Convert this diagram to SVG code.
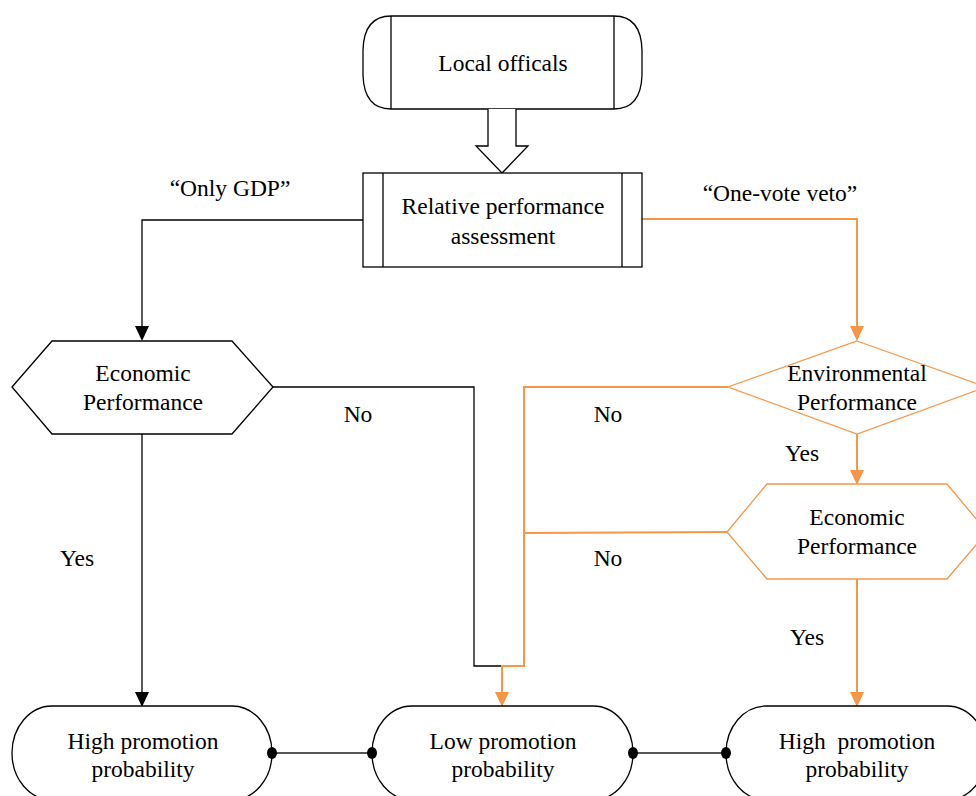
<svg xmlns="http://www.w3.org/2000/svg" width="976" height="796" viewBox="0 0 976 796" font-family="'Liberation Serif', 'DejaVu Serif', serif">
<defs>
<style>
text{font-family:'Liberation Serif','DejaVu Serif',serif;font-size:23.5px;fill:#000;text-anchor:middle}
.k{fill:#fff;stroke:#000;stroke-width:1.3}
.o{fill:#fff;stroke:#F79646;stroke-width:1.3}
.lk{fill:none;stroke:#000;stroke-width:1.3}
.lo{fill:none;stroke:#F79646;stroke-width:2}
.lg{fill:none;stroke:#555;stroke-width:2}
</style>
</defs>

<g id="connectors">
<path class="lk" d="M363,220 H142 V326"/>
<path class="lo" d="M642,219 H857 V326"/>
<path class="lk" d="M273,387 H474 V666 H502"/>
<path class="lo" d="M728,387 H524 V666 H502 V692"/>
<path class="lo" d="M727,532 L524,533"/>
<path class="lk" d="M142,434 V692"/>
<path class="lo" d="M857,434 V470"/>
<path class="lo" d="M857,579 V692"/>
<path d="M135,326 H149 L142,341 Z" fill="#000"/>
<path d="M850,326 H864 L857,341 Z" fill="#F79646"/>
<path d="M135,692 H149 L142,707 Z" fill="#000"/>
<path d="M495,692 H509 L502,707 Z" fill="#F79646"/>
<path d="M850,470 H864 L857,485 Z" fill="#F79646"/>
<path d="M850,692 H864 L857,707 Z" fill="#F79646"/>
<path class="lg" d="M272,753 H372 M633,753 H726"/>
<text x="230" y="196">“Only GDP”</text>
<text x="780" y="201">“One-vote veto”</text>
<text x="358" y="422">No</text>
<text x="608" y="422">No</text>
<text x="802" y="461">Yes</text>
<text x="608" y="566">No</text>
<text x="77" y="566">Yes</text>
<text x="807" y="645">Yes</text>
</g>

<g id="local-officals">
<path class="k" d="M391,16 H614 Q641,16 642,50 V75 Q641,109 614,109 H391 Q364,109 363,75 V50 Q364,16 391,16 Z"/>
<path class="k" d="M391,16 V109 M614,16 V109" fill="none"/>
<text x="503" y="71">Local officals</text>
</g>

<g id="hollow-arrow">
<path class="k" d="M488,109 V146 H476 L502,173 L528,146 H516 V109"/>
</g>

<g id="relative-performance">
<rect class="k" x="363" y="173" width="279" height="94"/>
<path class="k" d="M383,173 V267 M622,173 V267"/>
<text x="503" y="214">Relative performance</text>
<text x="503" y="244">assessment</text>
</g>

<g id="economic-left">
<path class="k" d="M12,387 L52,341 H232 L273,387 L232,434 H52 Z"/>
<text x="143" y="381">Economic</text>
<text x="143" y="410">Performance</text>
</g>

<g id="environmental">
<path class="o" d="M857,341 L986,387 L857,434 L728,387 Z"/>
<text x="857" y="381">Environmental</text>
<text x="857" y="410">Performance</text>
</g>

<g id="economic-right">
<path class="o" d="M727,532 L767,484 H947 L987,532 L947,579 H767 Z"/>
<text x="857" y="525">Economic</text>
<text x="857" y="554">Performance</text>
</g>

<g id="high-left">
<rect class="k" x="12" y="706" width="260" height="94" rx="40" ry="47"/>
<text x="143" y="749">High promotion</text>
<text x="143" y="777">probability</text>
</g>

<g id="low-middle">
<rect class="k" x="372" y="706" width="261" height="94" rx="40" ry="47"/>
<text x="503" y="749">Low promotion</text>
<text x="503" y="777">probability</text>
</g>

<g id="high-right">
<rect class="k" x="726" y="706" width="261" height="94" rx="40" ry="47"/>
<text x="857" y="749">High&#160; promotion</text>
<text x="857" y="777">probability</text>
</g>

<g id="junction-dots">
<ellipse cx="272" cy="753" rx="5" ry="6"/>
<ellipse cx="372" cy="753" rx="5" ry="6"/>
<ellipse cx="633" cy="753" rx="5" ry="6"/>
<ellipse cx="726" cy="753" rx="5" ry="6"/>
</g>
</svg>
